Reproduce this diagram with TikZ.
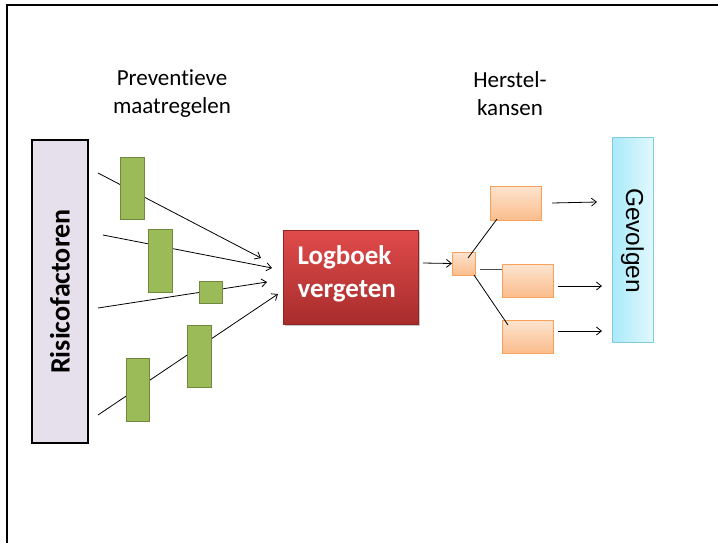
\documentclass[tikz,border=0pt]{standalone}
\usepackage{fontspec}
\setmainfont[Ligatures=NoCommon]{Carlito}
\newfontfamily\arialfam{Liberation Sans}
\usetikzlibrary{arrows.meta}
\definecolor{grnfill}{HTML}{9BBB59}
\definecolor{grnline}{HTML}{71893F}
\definecolor{lav}{HTML}{E6E0EC}
\definecolor{redtop}{HTML}{E04B4B}
\definecolor{redbot}{HTML}{A82C2C}
\definecolor{orgtop}{HTML}{FDE4D0}
\definecolor{orgbot}{HTML}{FBBD8C}
\definecolor{orgline}{HTML}{F8A15C}
\definecolor{cyanl}{HTML}{A8EAFB}
\definecolor{cyanr}{HTML}{E2F8FD}
\definecolor{cyanline}{HTML}{80CADC}
\tikzset{
  box/.style={inner sep=0pt, outer sep=0pt, anchor=north west},
  grn/.style={box, fill=grnfill, draw=grnline, line width=1pt},
  org/.style={box, draw=orgline, line width=1pt, top color=orgtop, bottom color=orgbot},
  conn/.style={line width=0.8pt, -{Straight Barb[length=5pt,width=8pt]}},
  plain/.style={line width=0.8pt},
  lbl/.style={align=center, font=\fontsize{23}{28}\selectfont},
}
\begin{document}
\begin{tikzpicture}[x=1pt,y=-1pt]
\useasboundingbox (0,0) rectangle (718,542);
\fill[white] (0,0) rectangle (718,542);
\draw[line width=2pt] (6.5,560) -- (6.5,5) -- (730,5);

% labels
\node[lbl] (prev) at (172,94) {Preventieve\\maatregelen};
\node[lbl] (herst) at (510,94) {Herstel-\\kansen};

% Risicofactoren
\node[box, fill=lav, draw=black, line width=1.8pt, minimum width=56pt, minimum height=303pt] (risk) at (32,140) {};
\node[rotate=90, font=\fontsize{28}{32}\selectfont\bfseries] (risktxt) at (risk.center) {Risicofactoren};

% line start coordinates
\coordinate (s1) at (98,173);
\coordinate (s2) at (103,235);
\coordinate (s3) at (98,308);
\coordinate (s4) at (98,415);
\coordinate (e1) at (261,258);
\coordinate (e2) at (272,268);
\coordinate (e3) at (267,282);
\coordinate (e4) at (278,294);
\draw[conn] (s1) -- (e1);
\draw[conn] (s2) -- (e2);
\draw[conn] (s3) -- (e3);
\draw[conn] (s4) -- (e4);

% green barriers
\node[grn, minimum width=24pt, minimum height=62pt] (g1) at (120,157) {};
\node[grn, minimum width=24pt, minimum height=63pt] (g2) at (148,229) {};
\node[grn, minimum width=23pt, minimum height=22pt] (g3) at (199,281) {};
\node[grn, minimum width=24pt, minimum height=62pt] (g4) at (187,325) {};
\node[grn, minimum width=23pt, minimum height=63pt] (g5) at (126,358) {};

% Logboek vergeten
\fill[black!22] (285,232) rectangle (420,326);
\node[box, draw=redbot!85!black, line width=0.8pt, top color=redtop, bottom color=redbot, minimum width=135pt, minimum height=94pt] (log) at (283,230) {};
\node[align=left, text=white, font=\fontsize{27}{33}\selectfont\bfseries, anchor=west] (logtxt) at (294,274) {Logboek\\vergeten};

% small orange
\node[org, minimum width=23pt, minimum height=23pt] (o0) at (452,252) {};
\draw[conn] (423,263) coordinate (a0) -- (o0.west);

% three orange
\node[org, minimum width=51pt, minimum height=34pt] (oA) at (490,186) {};
\node[org, minimum width=51pt, minimum height=33pt] (oB) at (502,264) {};
\node[org, minimum width=51pt, minimum height=33pt] (oC) at (502,320) {};
\draw[plain] (468,258) -- (497,219);
\draw[plain, draw=black!70] (480,269) -- (oB.west |- 0,269);
\draw[plain] (474,275) -- (508,325);

% Gevolgen
\node[box, draw=cyanline, line width=1pt, left color=cyanl, right color=cyanr, minimum width=41pt, minimum height=205pt] (gev) at (612,137) {};
\node[rotate=-90, font=\arialfam\fontsize{24.5}{30}\selectfont] (gevtxt) at ([yshift=-1pt]gev.center) {Gevolgen};

\draw[conn] (oA.east) ++(11,0) coordinate (b1) -- (597,202) coordinate (c1);
\draw[conn] (558,286) coordinate (b2) -- (602,286) coordinate (c2);
\draw[conn] (558,331) coordinate (b3) -- (602,331) coordinate (c3);
\end{tikzpicture}
\end{document}
